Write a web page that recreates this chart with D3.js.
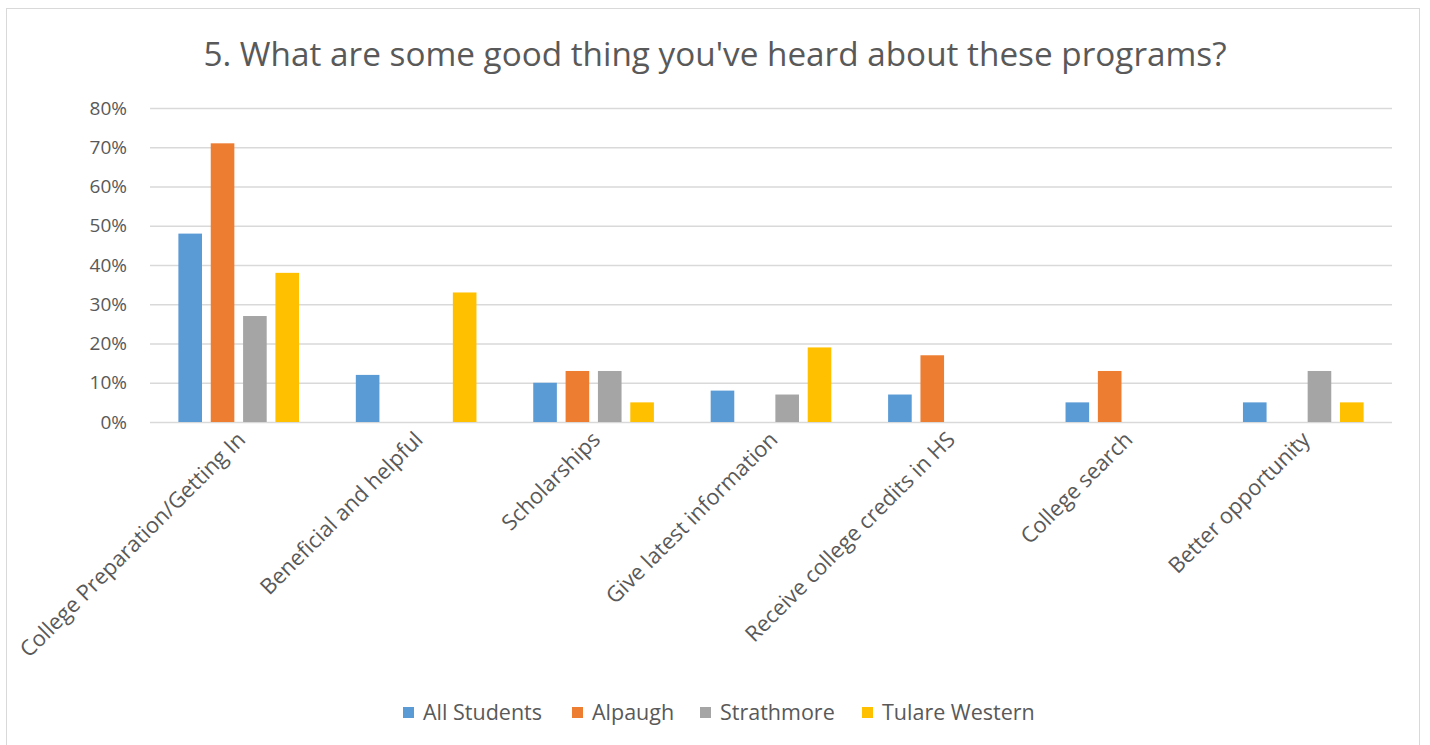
<!DOCTYPE html>
<html>
<head>
<meta charset="utf-8">
<script src="https://cdn.jsdelivr.net/npm/d3@7"></script>
<style>
  html, body { margin: 0; padding: 0; background: #ffffff; }
  svg { display: block; }
  text { font-family: "Open Sans", "Lato", sans-serif; fill: #595959; }
</style>
</head>
<body>
<svg id="chart" width="1430" height="745"></svg>
<script>
// Survey answers: share of students mentioning each good thing
const categories = [
  "College Preparation/Getting In",
  "Beneficial and helpful",
  "Scholarships",
  "Give latest information",
  "Receive college credits in HS",
  "College search",
  "Better opportunity"
];
const seriesNames = ["All Students", "Alpaugh", "Strathmore", "Tulare Western"];
const allStudents   = [0.48, 0.12, 0.10, 0.08, 0.07, 0.05, 0.05];
const alpaugh       = [0.71, 0,    0.13, 0,    0.17, 0.13, 0];
const strathmore    = [0.27, 0,    0.13, 0.07, 0,    0,    0.13];
const tulareWestern = [0.38, 0.33, 0.05, 0.19, 0,    0,    0.05];
const yTicks = [0, 0.1, 0.2, 0.3, 0.4, 0.5, 0.6, 0.7, 0.8];
const colors = ["#5B9BD5", "#ED7D31", "#A5A5A5", "#FFC000"];

const seriesValues = [allStudents, alpaugh, strathmore, tulareWestern];
const rows = categories.map((c, i) => ({
  category: c,
  values: seriesNames.map((s, j) => ({ series: s, value: seriesValues[j][i], idx: j }))
}));

const svg = d3.select("#chart");
const W = 1430, H = 745;
const margin = { left: 150, right: 38, top: 108, bottom: 323 };
const plotW = W - margin.left - margin.right;
const plotH = H - margin.top - margin.bottom;
const fontFamily = "'Open Sans', sans-serif";

// Outer chart frame
svg.append("rect")
  .attr("x", 6.5).attr("y", 8.5)
  .attr("width", 1413).attr("height", 760)
  .attr("fill", "#ffffff")
  .attr("stroke", "#d9d9d9").attr("stroke-width", 1);

svg.append("text")
  .attr("x", 715).attr("y", 66)
  .attr("text-anchor", "middle")
  .style("font-size", "33.3px")
  .text("5. What are some good thing you've heard about these programs?");

const g = svg.append("g").attr("transform", `translate(${margin.left},${margin.top})`);

const x0 = d3.scaleBand().domain(categories).range([0, plotW]).paddingInner(0.32).paddingOuter(0.16);
const x1 = d3.scaleBand().domain(seriesNames).range([0, x0.bandwidth()]).paddingInner(0.27);
const y = d3.scaleLinear().domain([0, 0.8]).range([plotH, 0]);

// Horizontal gridlines and percentage labels
const yAxis = d3.axisLeft(y).tickValues(yTicks).tickFormat(d3.format(".0%")).tickSize(-plotW).tickPadding(23);
const ya = g.append("g").call(yAxis);
ya.select(".domain").remove();
ya.selectAll(".tick line").attr("stroke", "#d9d9d9").attr("stroke-width", 1.3);
ya.selectAll(".tick text").style("font-size", "19px").style("fill", "#595959")
  .style("font-family", fontFamily);

// Grouped bars
const groups = g.selectAll("g.cat").data(rows).join("g")
  .attr("class", "cat")
  .attr("transform", d => `translate(${x0(d.category)},0)`);
groups.selectAll("rect").data(d => d.values.filter(v => v.value > 0)).join("rect")
  .attr("x", d => x1(d.series))
  .attr("width", x1.bandwidth())
  .attr("y", d => y(d.value))
  .attr("height", d => plotH - y(d.value))
  .attr("fill", d => colors[d.idx]);

// Category labels, rotated 45 degrees
const xAxis = d3.axisBottom(x0).tickSize(0).tickPadding(0);
const xa = g.append("g").attr("transform", `translate(0,${plotH})`).call(xAxis);
xa.select(".domain").remove();
xa.selectAll(".tick text")
  .style("font-size", "21.8px").style("fill", "#595959").style("font-family", fontFamily)
  .attr("text-anchor", "end")
  .attr("dy", "0")
  .attr("transform", "translate(8,19) rotate(-45)");

// Legend
const legendX = [403, 572, 700, 862];
const legend = svg.append("g").attr("transform", "translate(0,713)");
seriesNames.forEach((s, i) => {
  legend.append("rect").attr("x", legendX[i]).attr("y", -6).attr("width", 11).attr("height", 11).attr("fill", colors[i]);
  legend.append("text").attr("x", legendX[i] + 20).attr("y", 7)
    .style("font-size", "21.5px").style("font-family", fontFamily).text(s);
});
</script>
</body>
</html>
